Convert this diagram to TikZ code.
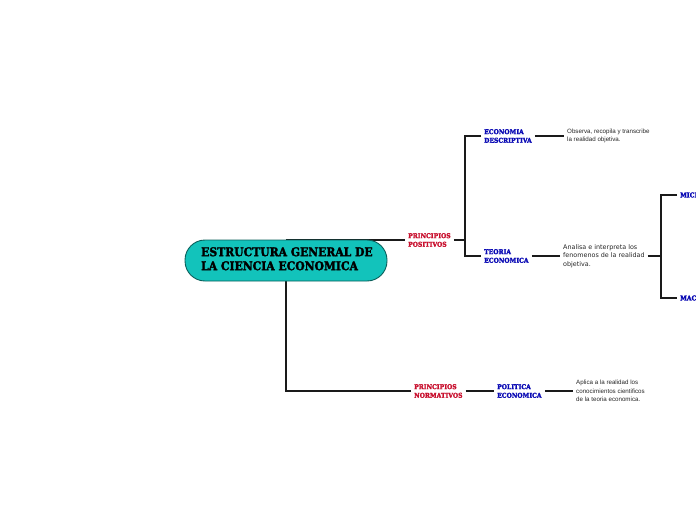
\documentclass[tikz,border=0pt]{standalone}
\usepackage{fontspec}
\setmainfont{Liberation Sans}
\newfontfamily\slab{DejaVu Serif}[UprightFont={* Bold}, FakeStretch=0.9, FakeBold=2.2]
\newfontfamily\dsans{DejaVu Sans}
\definecolor{tealfill}{HTML}{12C3BB}
\definecolor{tealedge}{HTML}{0B5F5B}
\definecolor{pred}{HTML}{C8102E}
\definecolor{pblue}{HTML}{0A0AB4}
\definecolor{lineclr}{HTML}{1A1A1A}
\tikzset{
  conn/.style={draw=lineclr, line width=1.3pt},
  mainbox/.style={rounded corners=20pt, fill=tealfill, draw=tealedge, line width=0.9pt,
     minimum width=202pt, minimum height=41pt, inner sep=0pt},
  redlbl/.style={anchor=west, inner xsep=3pt, inner ysep=1pt, align=left, text=pred,
     font=\slab\fontsize{6.7}{8.6}\selectfont},
  bluelbl/.style={anchor=west, inner xsep=3pt, inner ysep=1pt, align=left, text=pblue,
     font=\slab\fontsize{6.7}{8.6}\selectfont},
  desc/.style={anchor=west, inner xsep=3pt, inner ysep=1pt, align=left, text=black!85,
     font=\fontsize{6.2}{8.4}\selectfont},
  descd/.style={anchor=west, inner xsep=3pt, inner ysep=1pt, align=left, text=black!85,
     font=\dsans\fontsize{6.4}{8.5}\selectfont},
}
\begin{document}
\begin{tikzpicture}[x=1pt,y=-1pt]
\useasboundingbox (0,0) rectangle (696,520);
\clip (0,0) rectangle (696,520);
% nodes
\node[redlbl] (pp) at (405,240) {PRINCIPIOS\\POSITIVOS};
\node[redlbl] (pn) at (411,391) {PRINCIPIOS\\NORMATIVOS};
\node[bluelbl] (ed) at (481,136) {ECONOMIA\\DESCRIPTIVA};
\node[bluelbl] (te) at (481,256) {TEORIA\\ECONOMICA};
\node[bluelbl] (pe) at (494,391) {POLITICA\\ECONOMICA};
\node[bluelbl] (mi) at (677,195) {MICROECONOMIA};
\node[bluelbl] (ma) at (677,298) {MACROECONOMIA};
\node[desc] (edd) at (564,136) {Observa, recopila y transcribe\\la realidad objetiva.};
\node[descd] (ted) at (560,256) {Analisa e interpreta los\\fenomenos de la realidad\\objetiva.};
\node[desc] (ped) at (573,391) {Aplica a la realidad los\\conocimientos cientificos\\de la teoria economica.};
\coordinate (j1) at (465,240);
\coordinate (j2) at (661,256);
% connectors
\draw[conn] (286,240) -- (pp.west);
\draw[conn] (286,260) |- (pn.west);
\draw[conn] (pp.east) -- (j1);
\draw[conn] (ed.west) -| (j1) |- (te.west);
\draw[conn] (ed.east) -- (edd.west);
\draw[conn] (te.east) -- (ted.west);
\draw[conn] (ted.east) -- (j2);
\draw[conn] (mi.west) -| (j2) |- (ma.west);
\draw[conn] (pn.east) -- (pe.west);
\draw[conn] (pe.east) -- (ped.west);
% main node
\node[mainbox] (main) at (286,260.5) {};
\node[anchor=west, align=left, inner sep=0pt, text=black,
  font=\slab\fontsize{12}{14}\selectfont] (maintxt) at (201,258.8)
  {ESTRUCTURA GENERAL DE\\LA CIENCIA ECONOMICA};
\end{tikzpicture}
\end{document}
